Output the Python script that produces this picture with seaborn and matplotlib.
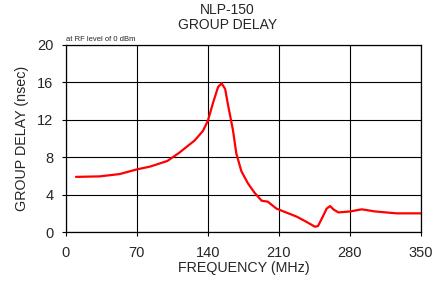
import pandas as pd
import matplotlib
matplotlib.use('Agg')
import matplotlib.pyplot as plt
import seaborn as sns

# values
freq = [10, 33, 53, 70, 83, 100, 112, 127, 135, 140, 145, 150, 153.5, 157, 160,
        164.7, 168, 173, 179.5, 186, 193, 199, 203, 207.7, 217, 227.5, 237, 245.5,
        248.5, 253, 257, 260.4, 264, 268.6, 280, 291.6, 305, 326, 350]
delay = [5.9, 5.95, 6.2, 6.7, 7.0, 7.6, 8.5, 9.8, 10.8, 11.9, 13.8, 15.5, 15.9, 15.3, 13.5,
         10.9, 8.4, 6.5, 5.2, 4.2, 3.35, 3.25, 2.9, 2.5, 2.1, 1.65, 1.1, 0.57,
         0.64, 1.6, 2.5, 2.78, 2.4, 2.1, 2.2, 2.43, 2.2, 2.0, 2.0]
xticks = [0, 70, 140, 210, 280, 350]
yticks = [0, 4, 8, 12, 16, 20]

df = pd.DataFrame({'freq': freq, 'delay': delay})

sns.set_style('white')
plt.rcParams['font.family'] = ['Liberation Sans', 'DejaVu Sans']

fig = plt.figure(figsize=(4.45, 2.83), dpi=100)
ax = fig.add_axes([0.148, 0.180, 0.798, 0.661])

sns.lineplot(data=df, x='freq', y='delay', color='#ff0000', linewidth=1.6, ax=ax)

ax.set_xlim(0, 350)
ax.set_ylim(0, 20)
ax.set_xticks(xticks)
ax.set_yticks(yticks)
ax.grid(True, color='black', linewidth=0.8)
for s in ax.spines.values():
    s.set_color('black')
    s.set_linewidth(0.9)
ax.tick_params(axis='both', direction='out', length=3, width=0.8, color='black',
               labelsize=10.5, bottom=True, left=True)
ax.tick_params(axis='x', pad=7)
ax.tick_params(axis='y', pad=6)
ax.set_xlabel('FREQUENCY (MHz)', fontsize=10.3, labelpad=1)
ax.set_ylabel('GROUP DELAY (nsec)', fontsize=10.3, labelpad=6)

fig.text(0.511, 0.965, 'NLP-150', ha='center', va='center', fontsize=10)
fig.text(0.511, 0.912, 'GROUP DELAY', ha='center', va='center', fontsize=10)
ax.text(0.0, 1.012, 'at RF level of 0 dBm', transform=ax.transAxes,
        ha='left', va='bottom', fontsize=5.5)

fig.savefig('out.png', dpi=100)
